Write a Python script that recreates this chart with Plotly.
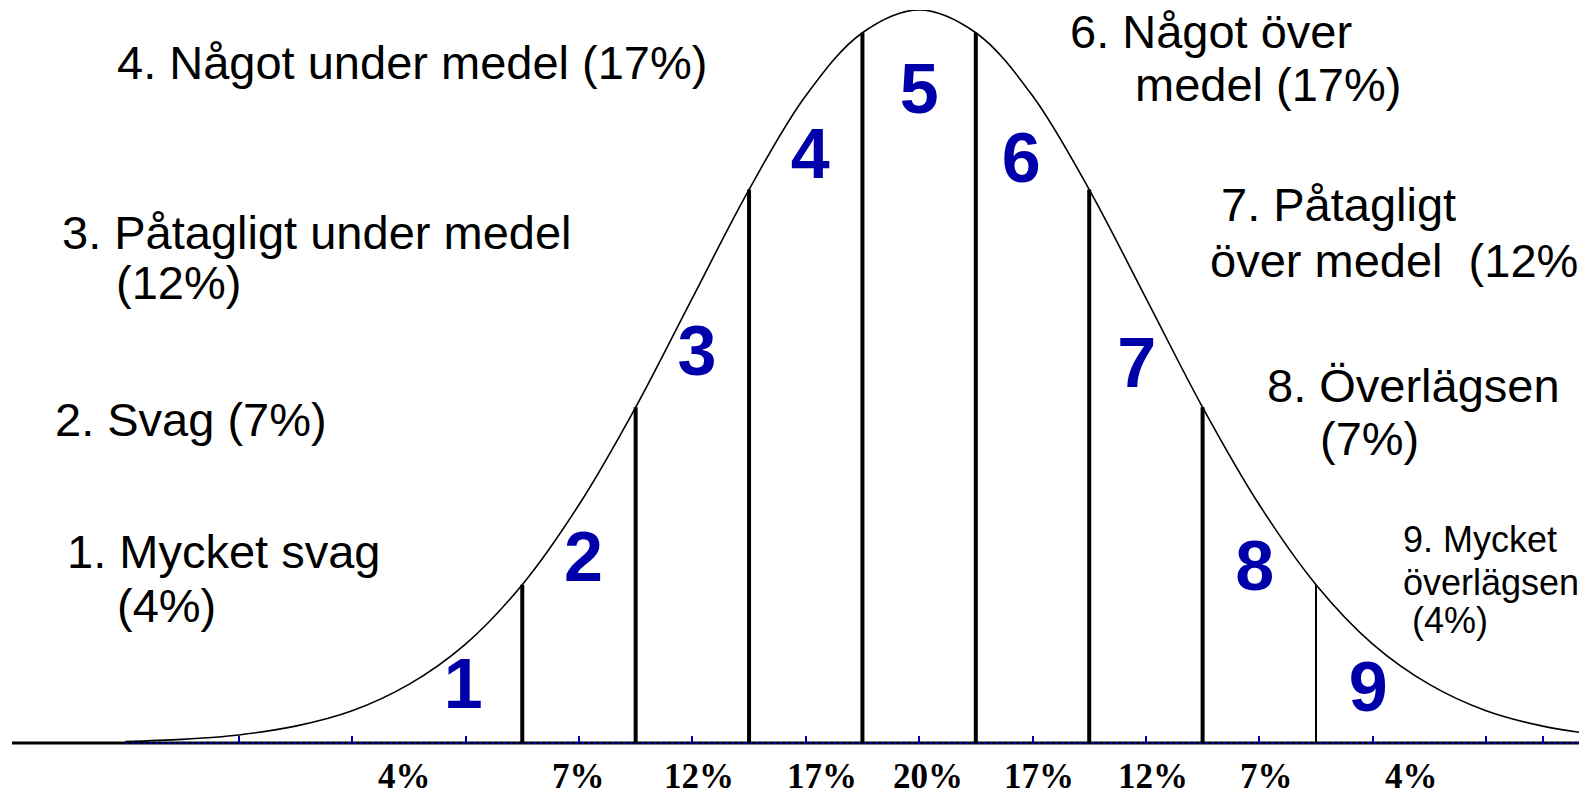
"""Stanine bell curve with the Swedish grade descriptions."""

import plotly.graph_objects as go

BLUE = "#0000AA"

# bell curve heights (peak = 1), read every quarter sigma
CURVE_Z = [-3.5, -3.25, -3.0, -2.75, -2.5, -2.25, -2.0, -1.75, -1.5, -1.25, -1.0, -0.75, -0.5,
           -0.25, 0.0, 0.25, 0.5, 0.75, 1.0, 1.25, 1.5, 1.75, 2.0, 2.25, 2.5, 2.75, 3.0]
CURVE_Y = [0.002, 0.005, 0.011, 0.023, 0.044, 0.080, 0.135, 0.216, 0.325, 0.458, 0.607, 0.755, 0.883,
           0.969, 1.000, 0.969, 0.883, 0.755, 0.607, 0.458, 0.325, 0.216, 0.135, 0.080, 0.044, 0.023, 0.011]

# stanine borders and where they meet the curve
BORDER_Z = [-1.75, -1.25, -0.75, -0.25, 0.25, 0.75, 1.25]
BORDER_H = [0.216, 0.458, 0.755, 0.969, 0.969, 0.755, 0.458]
THIN_BORDER_Z = [1.75]
THIN_BORDER_H = [0.216]

# big blue stanine numbers
STANINES = ["1", "2", "3", "4", "5", "6", "7", "8", "9"]
STANINE_Z = [-2.01, -1.48, -0.98, -0.48, 0.0, 0.45, 0.96, 1.48, 1.98]
STANINE_Y = [0.071, 0.245, 0.526, 0.795, 0.884, 0.789, 0.509, 0.232, 0.067]

# share per stanine under the axis
SHARES = ["4%", "7%", "12%", "17%", "20%", "17%", "12%", "7%", "4%"]
SHARE_Z = [-2.27, -1.50, -0.97, -0.43, 0.04, 0.53, 1.03, 1.53, 2.17]

# descriptions, one entry per text line
LABELS = [
    "4. Något under medel (17%)",
    "6. Något över", "medel (17%)",
    "3. Påtagligt under medel", "(12%)",
    "7. Påtagligt", "över medel\u00a0 (12%)",
    "2. Svag (7%)",
    "8. Överlägsen", "(7%)",
    "1. Mycket svag", "(4%)",
]
LABEL_Z = [-3.541, 0.661, 0.947, -3.784, -3.546, 1.326, 1.278, -3.815, 1.529, 1.764, -3.762, -3.541]
LABEL_Y = [0.928, 0.970, 0.898, 0.696, 0.628, 0.734, 0.658, 0.441, 0.488, 0.416, 0.261, 0.188]

SMALL_LABELS = ["9. Mycket", "överlägsen", "(4%)"]
SMALL_Z = [2.129, 2.129, 2.168]
SMALL_Y = [0.277, 0.219, 0.167]

BLUE_TICKS = [-4, -3, -2.5, -2, -1.5, -1, -0.5, 0, 0.5, 1, 1.5, 2, 2.5, 2.75]
BLACK_TICKS = [-2.75, -2.25, 2.25]
X_RANGE = [-4, 2.945]


def border_trace(zs, hs, width):
    xs, ys = [], []
    for z, h in zip(zs, hs):
        xs += [z, z, None]
        ys += [0, h, None]
    return go.Scatter(x=xs, y=ys, mode="lines", line=dict(color="black", width=width),
                      hoverinfo="skip", showlegend=False)


def to_paper(z):
    return (z - X_RANGE[0]) / (X_RANGE[1] - X_RANGE[0])


fig = go.Figure()
fig.add_trace(border_trace(BORDER_Z, BORDER_H, 4))
fig.add_trace(border_trace(THIN_BORDER_Z, THIN_BORDER_H, 2))
fig.add_trace(go.Scatter(
    x=CURVE_Z, y=CURVE_Y, mode="lines",
    line=dict(color="black", width=1.6, shape="spline"),
    showlegend=False,
))
fig.add_trace(go.Scatter(
    x=STANINE_Z, y=STANINE_Y, mode="text", text=STANINES,
    textposition="middle center",
    textfont=dict(family="Liberation Sans", size=70, color=BLUE, weight="bold"),
    showlegend=False,
))

for text, z, y in zip(LABELS, LABEL_Z, LABEL_Y):
    fig.add_annotation(x=z, y=y, text=text, showarrow=False, xanchor="left", yanchor="middle",
                       borderpad=0, font=dict(family="Liberation Sans", size=47, color="black"))
for text, z, y in zip(SMALL_LABELS, SMALL_Z, SMALL_Y):
    fig.add_annotation(x=z, y=y, text=text, showarrow=False, xanchor="left", yanchor="middle",
                       borderpad=0, font=dict(family="Liberation Sans", size=36, color="black"))
for text, z in zip(SHARES, SHARE_Z):
    fig.add_annotation(x=to_paper(z), y=-0.0457, xref="paper", yref="paper", text=text,
                       showarrow=False, xanchor="center", yanchor="middle", borderpad=0,
                       font=dict(family="Liberation Serif", size=35, color="black", weight="bold"))

# the axis: black base with a blue dotted run under the curve
fig.add_shape(type="line", xref="paper", yref="paper", x0=0, x1=1, y0=0, y1=0, layer="below",
              line=dict(color="black", width=3))
fig.add_shape(type="line", xref="paper", yref="paper", x0=to_paper(CURVE_Z[0]), x1=1, y0=0, y1=0,
              layer="below", line=dict(color=BLUE, width=2, dash="dot"))

axis_common = dict(range=X_RANGE, showgrid=False, zeroline=False, showline=False,
                   showticklabels=False)
# the page body keeps an 8px margin, so the figure is 8px smaller and shifted back
fig.update_layout(
    width=1579,
    height=786,
    margin=dict(l=4, r=0, t=2, b=51),
    paper_bgcolor="white",
    plot_bgcolor="rgba(0,0,0,0)",
    xaxis=dict(**axis_common, ticks="inside", tickvals=BLUE_TICKS, ticklen=7,
               tickwidth=1.5, tickcolor=BLUE),
    xaxis2=dict(**axis_common, overlaying="x", anchor="y", ticks="inside",
                tickvals=BLACK_TICKS, ticklen=8, tickwidth=4, tickcolor="black"),
    xaxis3=dict(**axis_common, overlaying="x", anchor="y", ticks="outside",
                tickvals=[X_RANGE[0]], ticklen=7, tickwidth=1.5, tickcolor=BLUE),
    yaxis=dict(range=[0, 1], visible=False),
    showlegend=False,
)

fig.write_html("out.html")
